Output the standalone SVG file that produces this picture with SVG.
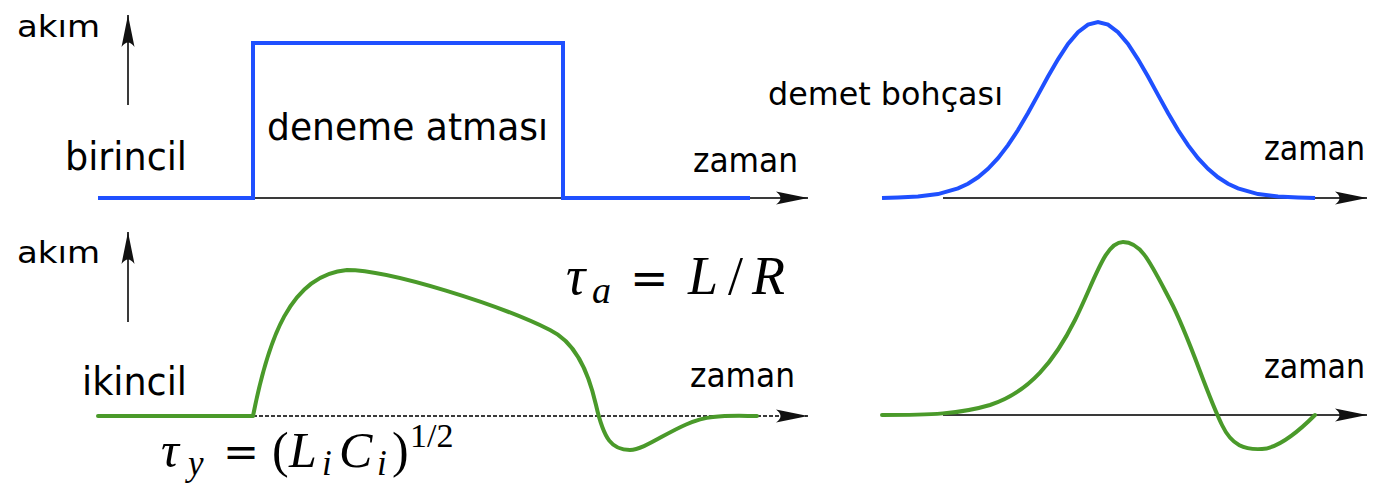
<svg xmlns="http://www.w3.org/2000/svg" width="1376" height="491" viewBox="0 0 1376 491">
<style>
.lbl{font-family:"DejaVu Sans","Liberation Sans",sans-serif;fill:#000}
.math{font-family:"Liberation Serif","DejaVu Serif",serif;fill:#000}
.it{font-style:italic}
.eq{font-family:"DejaVu Serif","Liberation Serif",serif}
.axis{stroke:#3a3a3a;stroke-width:2;fill:none}
.dash{stroke-dasharray:4 2}
.blue{stroke:#1f50ff;stroke-width:4;fill:none;stroke-linejoin:miter}
.green{stroke:#4a9a2a;stroke-width:4;fill:none;stroke-linecap:round;stroke-linejoin:round}
</style>
<defs>
<marker id="ah" markerUnits="userSpaceOnUse" markerWidth="40" markerHeight="20" viewBox="-34 -10 40 20" refX="0" refY="0" orient="auto" overflow="visible">
<path d="M0,0 L-32,-6.5 Q-23,0 -32,6.5 Z" fill="#111"/>
</marker>
</defs>
<rect width="1376" height="491" fill="#fff"/>

<g id="connectors">
<line class="axis" x1="128" y1="105" x2="128" y2="15" marker-end="url(#ah)"/>
<line class="axis" x1="253" y1="198" x2="808" y2="198" marker-end="url(#ah)"/>
<line class="axis" x1="943" y1="198" x2="1367" y2="198" marker-end="url(#ah)"/>
<line class="axis" x1="128" y1="322" x2="128" y2="232" marker-end="url(#ah)"/>
<line class="axis dash" x1="253" y1="416" x2="808" y2="416" marker-end="url(#ah)"/>
<line class="axis" x1="943" y1="415" x2="1367" y2="415" marker-end="url(#ah)"/>
</g>

<g id="primary-pulse">
<polyline class="blue" points="98,198 253,198 253,43 563,43 563,198 750,198"/>
</g>
<g id="beam-bunch">
<path class="blue" d="M882,198 L898,197.5 L918,196.6 L938,194.1 L958,188.4 L968,183.7 L978,177.3 L988,168.9 L998,158.2 L1008,145.2 L1018,130 L1028,113 L1038,94.9 L1048,76.6 L1058,59.3 L1068,44 L1078,32.2 L1088,24.6 L1098,22 L1108,24.6 L1118,32.2 L1128,44 L1138,59.3 L1148,76.6 L1158,94.9 L1168,113 L1178,130 L1188,145.2 L1198,158.2 L1208,168.9 L1218,177.3 L1228,183.7 L1238,188.4 L1258,194.1 L1278,196.6 L1298,197.5 L1315,198" stroke-linejoin="round"/>
</g>
<g id="secondary-pulse">
<path class="green" d="M98,416 L253,416 C268,340 290,275 347,270 C390,270 500,305 550,330 C575,342 588,370 596,405 C604,440 612,450 630,450 C648,450 680,420 713,417 C730,415 745,416 757,416"/>
</g>
<g id="secondary-bunch">
<path class="green" d="M882,415 C930,415 960,414 990,405 C1030,392 1055,360 1075,320 C1095,280 1105,242 1123,242 C1141,242 1150,262 1170,300 C1190,338 1205,390 1222,425 C1232,446 1245,450 1262,449 C1280,448 1300,430 1315,415"/>
</g>

<g id="label-akim-top"><text class="lbl" x="17" y="37" font-size="31" textLength="83" lengthAdjust="spacingAndGlyphs">akım</text></g>
<g id="label-birincil"><text class="lbl" x="65" y="170" font-size="39" textLength="122" lengthAdjust="spacingAndGlyphs">birincil</text></g>
<g id="label-deneme"><text class="lbl" x="267" y="140" font-size="38" textLength="281" lengthAdjust="spacingAndGlyphs">deneme atması</text></g>
<g id="label-zaman-1"><text class="lbl" x="693" y="172" font-size="34" textLength="105" lengthAdjust="spacingAndGlyphs">zaman</text></g>
<g id="label-demet"><text class="lbl" x="768" y="105" font-size="32" textLength="235" lengthAdjust="spacingAndGlyphs">demet bohçası</text></g>
<g id="label-zaman-2"><text class="lbl" x="1264" y="160" font-size="34" textLength="101" lengthAdjust="spacingAndGlyphs">zaman</text></g>
<g id="label-akim-bottom"><text class="lbl" x="17" y="263" font-size="31" textLength="83" lengthAdjust="spacingAndGlyphs">akım</text></g>
<g id="label-ikincil"><text class="lbl" x="82" y="395" font-size="39" textLength="105" lengthAdjust="spacingAndGlyphs">ikincil</text></g>
<g id="label-zaman-3"><text class="lbl" x="690" y="387" font-size="34" textLength="105" lengthAdjust="spacingAndGlyphs">zaman</text></g>
<g id="label-zaman-4"><text class="lbl" x="1264" y="378" font-size="34" textLength="101" lengthAdjust="spacingAndGlyphs">zaman</text></g>

<g id="formula-tau-a">
<text class="math" font-size="54">
<tspan class="it" x="566" y="294">τ</tspan><tspan class="it" x="592" y="303" font-size="38">a</tspan><tspan class="eq" x="630" y="294" font-size="46">=</tspan><tspan class="it" x="688" y="294">L</tspan><tspan x="728" y="294">/</tspan><tspan class="it" x="752" y="294">R</tspan>
</text>
</g>
<g id="formula-tau-y">
<text class="math" font-size="50">
<tspan class="it" x="161" y="467">τ</tspan><tspan class="it" x="188" y="475" font-size="35">y</tspan><tspan class="eq" x="223" y="467" font-size="43">=</tspan><tspan x="272" y="467">(</tspan><tspan class="it" x="289" y="467">L</tspan><tspan class="it" x="322" y="475" font-size="35">i</tspan><tspan class="it" x="339" y="467">C</tspan><tspan class="it" x="377" y="475" font-size="35">i</tspan><tspan x="392" y="467">)</tspan><tspan x="410" y="447" font-size="34">1/2</tspan>
</text>
</g>
</svg>
